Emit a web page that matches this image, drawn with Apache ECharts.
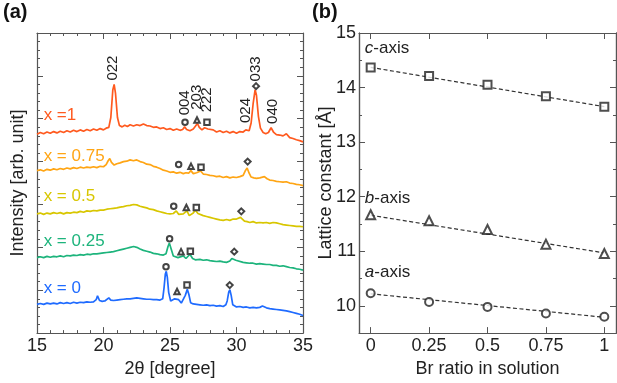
<!DOCTYPE html>
<html>
<head>
<meta charset="utf-8">
<script src="https://cdn.jsdelivr.net/npm/echarts@6.0.0/dist/echarts.min.js"></script>
<style>
html, body { margin: 0; padding: 0; background: #fff; }
#main { width: 617px; height: 383px; }
</style>
</head>
<body>
<div id="main"></div>
<script>
// (a) XRD patterns, [2theta, intensity]
var xrd100 = [[15.0,4.64],[15.25,4.68],[15.5,4.65],[15.75,4.69],[16.0,4.66],[16.25,4.70],[16.5,4.67],[16.75,4.71],[17.0,4.68],[17.25,4.72],[17.5,4.69],[17.75,4.73],[18.0,4.70],[18.25,4.74],[18.5,4.71],[18.75,4.75],[19.0,4.72],[19.25,4.76],[19.5,4.73],[19.75,4.77],[20.0,4.74],[20.2,4.78],[20.4,4.80],[20.55,5.03],[20.7,5.67],[20.8,5.80],[20.9,5.60],[21.05,5.03],[21.2,4.84],[21.4,4.81],[21.6,4.85],[21.8,4.82],[22.0,4.86],[22.25,4.83],[22.5,4.86],[22.75,4.84],[23.0,4.88],[23.25,4.84],[23.5,4.83],[23.75,4.80],[24.0,4.81],[24.25,4.77],[24.5,4.79],[24.75,4.75],[25.0,4.77],[25.25,4.73],[25.5,4.76],[25.75,4.73],[25.95,4.75],[26.1,4.81],[26.25,4.75],[26.5,4.72],[26.75,4.76],[26.95,4.84],[27.05,4.90],[27.2,4.80],[27.4,4.74],[27.6,4.79],[27.7,4.81],[27.85,4.76],[28.0,4.72],[28.25,4.74],[28.5,4.69],[28.75,4.72],[29.0,4.68],[29.25,4.71],[29.5,4.67],[29.75,4.70],[30.0,4.66],[30.25,4.70],[30.5,4.69],[30.7,4.74],[30.8,4.77],[30.95,4.72],[31.1,4.90],[31.25,5.35],[31.4,5.68],[31.5,5.55],[31.65,5.05],[31.8,4.78],[32.0,4.68],[32.2,4.65],[32.4,4.68],[32.6,4.79],[32.8,4.68],[33.0,4.63],[33.25,4.62],[33.5,4.60],[33.75,4.65],[34.0,4.56],[34.25,4.54],[34.5,4.51],[34.75,4.49],[35.0,4.46]];
var xrd75 = [[15.0,3.79],[15.25,3.81],[15.5,3.78],[15.75,3.82],[16.0,3.80],[16.25,3.83],[16.5,3.81],[16.75,3.84],[17.0,3.82],[17.25,3.85],[17.5,3.83],[17.75,3.86],[18.0,3.84],[18.25,3.87],[18.5,3.85],[18.75,3.87],[19.0,3.86],[19.25,3.88],[19.5,3.86],[19.75,3.89],[20.0,3.88],[20.2,3.93],[20.35,4.02],[20.47,4.07],[20.6,3.98],[20.8,3.92],[21.0,3.95],[21.25,3.97],[21.5,4.00],[21.75,4.01],[22.0,4.04],[22.25,4.02],[22.5,4.04],[22.75,4.00],[23.0,3.98],[23.25,3.94],[23.5,3.93],[23.75,3.89],[24.0,3.87],[24.25,3.84],[24.5,3.80],[24.75,3.78],[25.0,3.75],[25.25,3.76],[25.5,3.73],[25.75,3.75],[26.0,3.72],[26.2,3.74],[26.4,3.73],[26.57,3.79],[26.75,3.72],[27.0,3.74],[27.3,3.78],[27.5,3.71],[27.75,3.70],[28.0,3.68],[28.25,3.67],[28.5,3.65],[28.75,3.66],[29.0,3.63],[29.25,3.65],[29.5,3.62],[29.75,3.64],[30.0,3.63],[30.25,3.65],[30.5,3.68],[30.65,3.78],[30.8,3.85],[30.95,3.73],[31.1,3.64],[31.3,3.62],[31.5,3.61],[31.75,3.62],[32.1,3.65],[32.3,3.60],[32.5,3.57],[32.75,3.56],[33.0,3.54],[33.25,3.53],[33.5,3.52],[33.75,3.53],[34.0,3.50],[34.25,3.49],[34.5,3.47],[34.75,3.46],[35.0,3.44]];
var xrd50 = [[15.0,2.78],[15.25,2.80],[15.5,2.77],[15.75,2.80],[16.0,2.78],[16.25,2.81],[16.5,2.79],[16.75,2.81],[17.0,2.78],[17.25,2.81],[17.5,2.80],[17.75,2.82],[18.0,2.81],[18.25,2.84],[18.5,2.82],[18.75,2.85],[19.0,2.84],[19.25,2.86],[19.5,2.85],[19.75,2.87],[20.0,2.87],[20.25,2.89],[20.5,2.90],[20.75,2.91],[21.0,2.92],[21.25,2.94],[21.5,2.95],[21.75,2.97],[22.0,2.98],[22.25,3.00],[22.5,2.99],[22.75,2.96],[23.0,2.94],[23.25,2.92],[23.5,2.89],[23.75,2.88],[24.0,2.85],[24.25,2.83],[24.5,2.81],[24.75,2.79],[25.0,2.78],[25.25,2.79],[25.47,2.85],[25.65,2.77],[25.8,2.75],[26.0,2.78],[26.27,2.85],[26.45,2.74],[26.6,2.72],[26.75,2.80],[26.9,2.87],[27.1,2.79],[27.5,2.74],[27.75,2.72],[28.0,2.70],[28.25,2.68],[28.5,2.66],[28.75,2.64],[29.0,2.63],[29.25,2.65],[29.5,2.63],[29.75,2.66],[30.0,2.66],[30.3,2.70],[30.6,2.61],[30.8,2.60],[31.0,2.58],[31.25,2.60],[31.5,2.57],[31.75,2.58],[32.0,2.57],[32.25,2.58],[32.5,2.56],[32.75,2.58],[33.0,2.57],[33.25,2.55],[33.5,2.53],[33.75,2.52],[34.0,2.51],[34.25,2.50],[34.5,2.49],[34.75,2.49],[35.0,2.48]];
var xrd25 = [[15.0,1.76],[15.25,1.78],[15.5,1.76],[15.75,1.79],[16.0,1.77],[16.25,1.79],[16.5,1.78],[16.75,1.80],[17.0,1.78],[17.25,1.81],[17.5,1.80],[17.75,1.82],[18.0,1.81],[18.25,1.83],[18.5,1.82],[18.75,1.84],[19.0,1.83],[19.25,1.85],[19.5,1.85],[19.75,1.86],[20.0,1.87],[20.25,1.88],[20.5,1.89],[20.75,1.90],[21.0,1.92],[21.25,1.94],[21.5,1.96],[21.75,1.98],[22.0,2.00],[22.27,2.02],[22.5,2.00],[22.75,1.96],[23.0,1.93],[23.25,1.91],[23.5,1.89],[23.75,1.86],[24.0,1.85],[24.25,1.83],[24.5,1.82],[24.7,1.85],[24.85,2.02],[24.95,2.10],[25.1,1.95],[25.25,1.80],[25.4,1.78],[25.6,1.76],[25.75,1.76],[26.0,1.80],[26.2,1.74],[26.35,1.76],[26.5,1.84],[26.7,1.74],[26.9,1.71],[27.25,1.72],[27.5,1.70],[27.75,1.71],[28.0,1.69],[28.25,1.68],[28.5,1.67],[28.75,1.68],[29.0,1.66],[29.25,1.65],[29.5,1.68],[29.65,1.74],[29.8,1.78],[29.95,1.70],[30.1,1.66],[30.5,1.65],[30.75,1.64],[31.0,1.63],[31.25,1.63],[31.5,1.61],[31.75,1.62],[32.0,1.61],[32.25,1.60],[32.5,1.60],[32.75,1.58],[33.0,1.58],[33.25,1.56],[33.5,1.57],[33.75,1.55],[34.0,1.53],[34.25,1.52],[34.5,1.50],[34.75,1.49],[35.0,1.47]];
var xrd0 = [[15.0,0.67],[15.25,0.69],[15.5,0.67],[15.75,0.70],[16.0,0.68],[16.25,0.70],[16.5,0.68],[16.75,0.71],[17.0,0.69],[17.25,0.71],[17.5,0.69],[17.75,0.72],[18.0,0.70],[18.25,0.72],[18.5,0.71],[18.75,0.73],[19.0,0.72],[19.25,0.73],[19.45,0.78],[19.55,0.87],[19.7,0.76],[19.9,0.74],[20.1,0.75],[20.25,0.78],[20.4,0.82],[20.55,0.77],[20.75,0.76],[21.0,0.77],[21.25,0.78],[21.5,0.79],[21.75,0.80],[22.0,0.80],[22.25,0.81],[22.5,0.82],[22.75,0.81],[23.0,0.80],[23.25,0.79],[23.5,0.79],[23.75,0.78],[24.0,0.78],[24.25,0.77],[24.45,0.80],[24.55,1.05],[24.65,1.38],[24.72,1.44],[24.8,1.30],[24.9,0.95],[25.05,0.75],[25.2,0.76],[25.35,0.80],[25.5,0.84],[25.65,0.78],[25.85,0.70],[26.0,0.72],[26.15,0.88],[26.3,1.02],[26.42,0.90],[26.55,0.71],[26.75,0.68],[27.0,0.67],[27.25,0.66],[27.5,0.65],[27.75,0.66],[28.0,0.64],[28.25,0.65],[28.5,0.63],[28.75,0.64],[29.0,0.62],[29.2,0.66],[29.3,0.75],[29.42,0.96],[29.5,1.01],[29.6,0.88],[29.72,0.66],[29.85,0.62],[30.0,0.61],[30.25,0.62],[30.5,0.60],[30.75,0.61],[31.0,0.59],[31.25,0.60],[31.5,0.59],[31.75,0.60],[31.95,0.63],[32.1,0.65],[32.25,0.59],[32.5,0.57],[32.75,0.56],[33.0,0.55],[33.25,0.54],[33.5,0.53],[33.75,0.52],[34.0,0.50],[34.25,0.48],[34.5,0.46],[34.75,0.44],[35.0,0.41]];

var sampleNames = ['x =1', 'x = 0.75', 'x = 0.5', 'x = 0.25', 'x = 0'];
var sampleColors = ['#ff5a1f', '#ffa514', '#d8c600', '#1db47c', '#1f6bff'];
var sampleLabelY = [5.08, 4.13, 3.19, 2.14, 1.05];

// peak markers: [shape, 2theta, height]
var peaks100 = [['circle', 26.13, 4.92], ['triangle', 27.03, 4.97], ['rect', 27.78, 4.92], ['diamond', 31.47, 5.76]];
var peaks75 = [['circle', 25.65, 3.93], ['triangle', 26.58, 3.89], ['rect', 27.33, 3.87], ['diamond', 30.84, 4.00]];
var peaks50 = [['circle', 25.28, 2.96], ['triangle', 26.23, 2.93], ['rect', 26.98, 2.93], ['diamond', 30.36, 2.84]];
var peaks25 = [['circle', 24.97, 2.20], ['triangle', 25.83, 1.90], ['rect', 26.53, 1.91], ['diamond', 29.83, 1.90]];
var peaks0 = [['circle', 24.70, 1.55], ['triangle', 25.53, 0.97], ['rect', 26.28, 1.12], ['diamond', 29.49, 1.12]];

// hkl labels: [text, 2theta, height of text foot]
var hklLabels = [['022', 20.74, 5.89], ['004', 26.13, 5.08], ['203', 27.03, 5.21], ['222', 27.78, 5.15],
                 ['024', 30.72, 4.90], ['033', 31.47, 5.87], ['040', 32.70, 4.88]];

// (b) lattice constants
var brRatio = [0, 0.25, 0.5, 0.75, 1];
var cAxis = [14.37, 14.21, 14.05, 13.84, 13.65];
var bAxis = [11.67, 11.56, 11.40, 11.13, 10.96];
var aAxis = [10.23, 10.07, 9.98, 9.86, 9.80];
var fitX = [0, 1];
var cFit = [14.37, 13.65];
var bFit = [11.66, 10.97];
var aFit = [10.22, 9.79];
var brTicks = [0, 0.25, 0.5, 0.75, 1];
var latticeTicks = [10, 11, 12, 13, 14, 15];

var FONT = 'Liberation Sans, Arial, sans-serif';
var AXIS_COLOR = '#555';
var TEXT_COLOR = '#222';
var MARK_COLOR = '#222';

var chart = echarts.init(document.getElementById('main'));

function pairs(xs, ys) {
    return xs.map(function (x, i) { return [x, ys[i]]; });
}

function peakPoints(list) {
    return list.map(function (p) {
        return { coord: [p[1], p[2]], symbol: 'empty' + p[0].charAt(0).toUpperCase() + p[0].slice(1), symbolSize: p[0] == 'diamond' ? 6 : 5.5 };
    });
}

function xrdSeries(data, color, peaks) {
    return {
        type: 'line',
        xAxisIndex: 0,
        yAxisIndex: 0,
        data: data,
        symbol: 'none',
        lineStyle: { color: color, width: 1.7 },
        silent: true,
        markPoint: {
            data: peakPoints(peaks),
            itemStyle: { color: '#444', borderWidth: 0.9 },
            label: { show: false },
            animation: false
        }
    };
}

function baseAxis(extra) {
    var ax = {
        type: 'value',
        axisLine: { show: true, onZero: false, lineStyle: { color: AXIS_COLOR, width: 1.2 } },
        axisTick: { show: true, inside: true, length: 6, lineStyle: { color: AXIS_COLOR } },
        splitLine: { show: false },
        axisLabel: { show: false, color: TEXT_COLOR, fontSize: 18, fontFamily: FONT },
        nameTextStyle: { color: TEXT_COLOR, fontSize: 18, fontFamily: FONT }
    };
    for (var k in extra) ax[k] = extra[k];
    return ax;
}

var minorA = { show: true, splitNumber: 5, length: 3, lineStyle: { color: AXIS_COLOR } };

var option = {
    animation: false,
    backgroundColor: '#fff',
    textStyle: { fontFamily: FONT },
    grid: [
        { left: 37, top: 33, width: 266, height: 310 },
        { left: 359, top: 33, width: 257, height: 310 }
    ],
    xAxis: [
        baseAxis({ gridIndex: 0, position: 'bottom', min: 15, max: 35, interval: 5, minorTick: minorA,
            axisLabel: { show: true, color: TEXT_COLOR, fontSize: 18, fontFamily: FONT, margin: 4 },
            name: '2θ [degree]', nameLocation: 'middle', nameGap: 21 }),
        baseAxis({ gridIndex: 0, position: 'top', min: 15, max: 35, interval: 5, minorTick: minorA }),
        baseAxis({ gridIndex: 1, position: 'bottom', min: -0.05, max: 1.05,
            axisTick: { show: true, inside: true, length: 6, customValues: brTicks, lineStyle: { color: AXIS_COLOR } },
            axisLabel: { show: true, customValues: brTicks, color: TEXT_COLOR, fontSize: 18, fontFamily: FONT, margin: 4 },
            name: 'Br ratio in solution', nameLocation: 'middle', nameGap: 22 }),
        baseAxis({ gridIndex: 1, position: 'top', min: -0.05, max: 1.05,
            axisTick: { show: true, inside: true, length: 6, customValues: brTicks, lineStyle: { color: AXIS_COLOR } } })
    ],
    yAxis: [
        baseAxis({ gridIndex: 0, position: 'left', min: 0, max: 7, interval: 1, minorTick: minorA,
            name: 'Intensity [arb. unit]', nameLocation: 'middle', nameGap: 10 }),
        baseAxis({ gridIndex: 0, position: 'right', min: 0, max: 7, interval: 1, minorTick: minorA }),
        baseAxis({ gridIndex: 1, position: 'left', min: 9.5, max: 15, interval: 0.5,
            axisTick: { show: true, inside: true, length: 3, lineStyle: { color: AXIS_COLOR } },
            name: 'Lattice constant [Å]', nameLocation: 'middle', nameGap: 24 }),
        baseAxis({ gridIndex: 1, position: 'left', min: 9.5, max: 15,
            axisTick: { show: true, inside: true, length: 6, customValues: latticeTicks, lineStyle: { color: AXIS_COLOR } },
            axisLabel: { show: true, customValues: latticeTicks, color: TEXT_COLOR, fontSize: 18, fontFamily: FONT, margin: 3 } }),
        baseAxis({ gridIndex: 1, position: 'right', min: 9.5, max: 15, interval: 0.5,
            axisTick: { show: true, inside: true, length: 3, lineStyle: { color: AXIS_COLOR } } }),
        baseAxis({ gridIndex: 1, position: 'right', min: 9.5, max: 15,
            axisTick: { show: true, inside: true, length: 6, customValues: latticeTicks, lineStyle: { color: AXIS_COLOR } } })
    ],
    series: [
        xrdSeries(xrd100, sampleColors[0], peaks100),
        xrdSeries(xrd75, sampleColors[1], peaks75),
        xrdSeries(xrd50, sampleColors[2], peaks50),
        xrdSeries(xrd25, sampleColors[3], peaks25),
        xrdSeries(xrd0, sampleColors[4], peaks0)
    ]
};

var fits = [cFit, bFit, aFit];
var points = [[cAxis, 'emptyRect', 8], [bAxis, 'emptyTriangle', 9], [aAxis, 'emptyCircle', 8]];
fits.forEach(function (f) {
    option.series.push({
        type: 'line', xAxisIndex: 2, yAxisIndex: 2, data: pairs(fitX, f), symbol: 'none', silent: true,
        lineStyle: { color: '#333', width: 1.2, type: [4, 2.5] }, z: 2
    });
});
points.forEach(function (p) {
    option.series.push({
        type: 'scatter', xAxisIndex: 2, yAxisIndex: 2, data: pairs(brRatio, p[0]),
        symbol: p[1], symbolSize: p[2], itemStyle: { color: MARK_COLOR, borderWidth: 1 }, z: 3
    });
});

chart.setOption(option);

// text annotations, placed through the axes
var graphics = [
    { type: 'text', left: 3, top: 2, style: { text: '(a)', fontSize: 20, fontWeight: 'bold', fontFamily: FONT, fill: '#111' } },
    { type: 'text', left: 312, top: 2, style: { text: '(b)', fontSize: 20, fontWeight: 'bold', fontFamily: FONT, fill: '#111' } }
];
sampleNames.forEach(function (name, i) {
    var pt = chart.convertToPixel({ xAxisIndex: 0, yAxisIndex: 0 }, [15.5, sampleLabelY[i]]);
    graphics.push({ type: 'text', x: pt[0], y: pt[1], style: { text: name, fontSize: 17, fontFamily: FONT, fill: sampleColors[i], align: 'left', verticalAlign: 'middle' } });
});
hklLabels.forEach(function (h) {
    var pt = chart.convertToPixel({ xAxisIndex: 0, yAxisIndex: 0 }, [h[1], h[2]]);
    graphics.push({ type: 'text', x: pt[0], y: pt[1], rotation: Math.PI / 2, style: { text: h[0], fontSize: 15, fontFamily: FONT, fill: '#222', align: 'left', verticalAlign: 'middle' } });
});
var axisNames = [['c', 14.72], ['b', 11.97], ['a', 10.61]];
axisNames.forEach(function (a) {
    var pt = chart.convertToPixel({ xAxisIndex: 2, yAxisIndex: 2 }, [-0.025, a[1]]);
    graphics.push({ type: 'text', x: pt[0], y: pt[1], style: {
        text: '{i|' + a[0] + '}-axis', fontSize: 17, fontFamily: FONT, fill: '#222', align: 'left', verticalAlign: 'middle',
        rich: { i: { fontStyle: 'italic', fontSize: 17, fontFamily: FONT, fill: '#222' } }
    } });
});
chart.setOption({ graphic: graphics });
</script>
</body>
</html>
